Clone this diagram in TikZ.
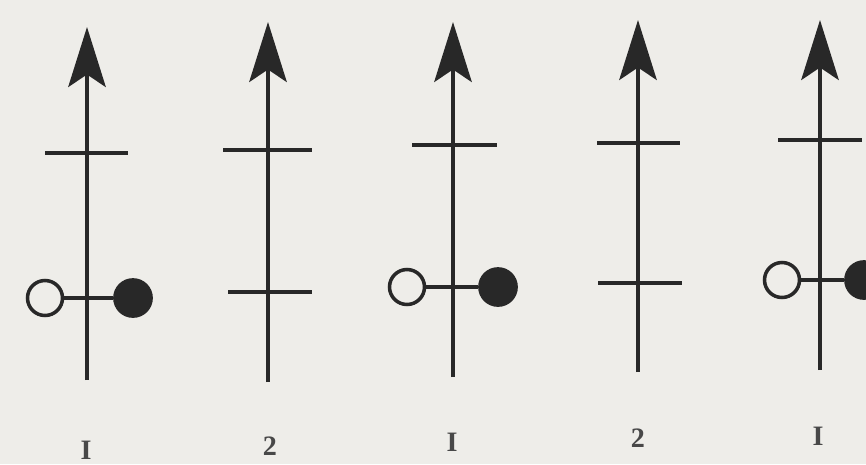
\documentclass[tikz,border=0pt]{standalone}
\usepackage{fontspec}
\setmainfont{Liberation Serif}
\usetikzlibrary{arrows.meta}
\definecolor{paper}{RGB}{238,237,233}
\definecolor{ink}{RGB}{40,40,40}

\begin{document}
\begin{tikzpicture}[x=0.02cm, y=-0.02cm,
        axis/.style={draw=ink, line width=2pt, -{Stealth[length=1.2cm, width=0.75cm, inset=0.25cm]}},
        tick/.style={draw=ink, line width=2.2pt},
        bond/.style={draw=ink, line width=1.8pt},
        opendot/.style={circle, draw=ink, fill=paper, line width=2pt, minimum size=0.7cm, inner sep=0pt},
        fulldot/.style={circle, draw=ink, fill=ink, line width=1pt, minimum size=0.76cm, inner sep=0pt},
        num/.style={font=\fontsize{16}{19}\selectfont\bfseries, text=ink!85}]

    \fill [paper] (0,0) rectangle (866,464);
    \useasboundingbox (0,0) rectangle (866,464);

    % first figure (1)
    \coordinate (b1) at (87,380);
    \coordinate (t1) at (87,27);
    \path [axis] (b1) -- (t1);
    \path [tick] (45,153) -- (128,153);
    \node [opendot] (o1) at (45,298) {};
    \node [fulldot] (f1) at (133,298) {};
    \path [bond] (o1) -- (f1);
    \node [num] (l1) at (86,450) {I};

    % second figure (2)
    \coordinate (b2) at (268,382);
    \coordinate (t2) at (268,22);
    \path [axis] (b2) -- (t2);
    \path [tick] (223,150) -- (312,150);
    \path [tick] (228,292) -- (312,292);
    \node [num] (l2) at (270,446) {2};

    % third figure (1)
    \coordinate (b3) at (453,377);
    \coordinate (t3) at (453,22);
    \path [axis] (b3) -- (t3);
    \path [tick] (412,145) -- (497,145);
    \node [opendot] (o3) at (407,287) {};
    \node [fulldot] (f3) at (498,287) {};
    \path [bond] (o3) -- (f3);
    \node [num] (l3) at (452,442) {I};

    % fourth figure (2)
    \coordinate (b4) at (638,372);
    \coordinate (t4) at (638,20);
    \path [axis] (b4) -- (t4);
    \path [tick] (597,143) -- (680,143);
    \path [tick] (598,283) -- (682,283);
    \node [num] (l4) at (638,438) {2};

    % fifth figure (1)
    \coordinate (b5) at (820,370);
    \coordinate (t5) at (820,20);
    \path [axis] (b5) -- (t5);
    \path [tick] (778,140) -- (862,140);
    \node [opendot] (o5) at (782,280) {};
    \node [fulldot] (f5) at (864,280) {};
    \path [bond] (o5) -- (f5);
    \node [num] (l5) at (818,436) {I};
\end{tikzpicture}
\end{document}
